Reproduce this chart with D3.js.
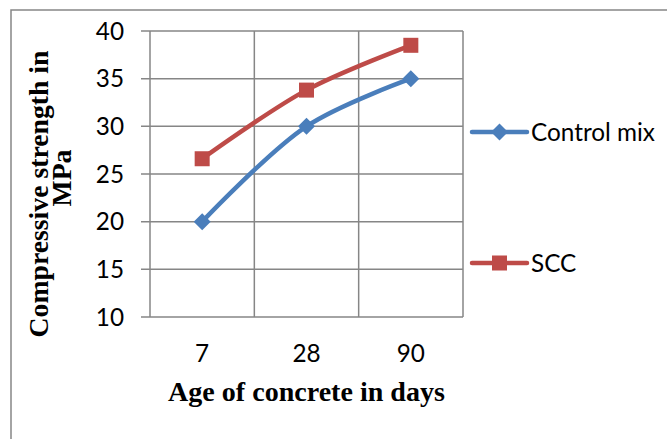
<!DOCTYPE html>
<html><head><meta charset="utf-8">
<script src="https://cdn.jsdelivr.net/npm/d3@7"></script>
<style>body{margin:0;background:#fff}svg{display:block}</style>
</head><body>
<svg id="c" width="667" height="439"></svg>
<script>
const categories = ["7", "28", "90"];
const controlMix = [20, 30, 35];
const scc = [26.6, 33.8, 38.5];
const yTicks = [10, 15, 20, 25, 30, 35, 40];
const seriesNames = ["Control mix", "SCC"];
const xTitle = "Age of concrete in days";
const yTitleLines = ["Compressive strength in", "MPa"];

const svg = d3.select("#c");
const grid = "#868686";
const blue = "#4A7EBB", red = "#BE4B48";
const tickFont = "Lato, 'Open Sans', sans-serif";
const titleFont = "'Liberation Serif', 'Times New Roman', serif";

// outer chart border
svg.append("rect").attr("x", 11).attr("y", 10).attr("width", 720).attr("height", 500)
  .attr("fill", "#fff").attr("stroke", grid).attr("stroke-width", 1.5);

const L = 150, R = 463, T = 31, B = 317;
const x = d3.scaleBand().domain(categories).range([L, R]).paddingInner(0).paddingOuter(0);
const y = d3.scaleLinear().domain([10, 40]).range([B, T]);
const cx = d => x(d) + x.bandwidth() / 2;

// horizontal grid + y ticks
svg.append("g").selectAll("line").data(yTicks).join("line")
  .attr("x1", 141).attr("x2", R).attr("y1", d => y(d)).attr("y2", d => y(d))
  .attr("stroke", grid).attr("stroke-width", 1.5);
// vertical grid at band boundaries
const vb = categories.map(c => x(c)).concat([x(categories[categories.length - 1]) + x.bandwidth()]);
svg.append("g").selectAll("line").data(vb).join("line")
  .attr("x1", d => d).attr("x2", d => d).attr("y1", T).attr("y2", B)
  .attr("stroke", grid).attr("stroke-width", 1.5);

// legend font size fit
const probe = svg.append("text").attr("font-family", tickFont).attr("font-size", 20).text(seriesNames[0]);
const fsTick = 20 * 124 / probe.node().getComputedTextLength();
probe.remove();

// y tick labels
svg.append("g").selectAll("text").data(yTicks).join("text")
  .attr("x", 124).attr("y", d => y(d)).attr("dy", "0.35em").attr("text-anchor", "end")
  .attr("font-family", tickFont).attr("font-size", fsTick).attr("fill", "#000").text(d => d);
// x tick labels
svg.append("g").selectAll("text").data(categories).join("text")
  .attr("x", d => cx(d)).attr("y", 362).attr("text-anchor", "middle")
  .attr("font-family", tickFont).attr("font-size", fsTick).attr("fill", "#000").text(d => d);

// fit helper
function fit(sel, target) {
  const w = sel.node().getComputedTextLength();
  const fs = +sel.attr("font-size");
  sel.attr("font-size", fs * target / w);
  return fs * target / w;
}
// x title
const xt = svg.append("text").attr("x", (L + R) / 2 + 0).attr("y", 401).attr("text-anchor", "middle")
  .attr("font-family", titleFont).attr("font-weight", "bold").attr("font-size", 22).text(xTitle);
fit(xt, 277);
// y title
const yt1 = svg.append("text").attr("transform", "translate(48,194) rotate(-90)").attr("text-anchor", "middle")
  .attr("font-family", titleFont).attr("font-weight", "bold").attr("font-size", 20).text(yTitleLines[0]);
const fsY = fit(yt1, 287);
svg.append("text").attr("transform", "translate(71,178) rotate(-90)").attr("text-anchor", "middle")
  .attr("font-family", titleFont).attr("font-weight", "bold").attr("font-size", fsY).text(yTitleLines[1]);

// lines
const line = d3.line().x(d => cx(d[0])).y(d => y(d[1])).curve(d3.curveCatmullRom.alpha(0.5));
const s1 = categories.map((c, i) => [c, controlMix[i]]);
const s2 = categories.map((c, i) => [c, scc[i]]);
svg.append("path").attr("d", line(s2)).attr("fill", "none").attr("stroke", red).attr("stroke-width", 4.5).attr("stroke-linejoin", "round");
svg.append("path").attr("d", line(s1)).attr("fill", "none").attr("stroke", blue).attr("stroke-width", 4.5).attr("stroke-linejoin", "round");

const diamond = (px, py, r) => `M${px},${py - r}L${px + r},${py}L${px},${py + r}L${px - r},${py}Z`;
svg.append("g").selectAll("rect").data(s2).join("rect")
  .attr("x", d => cx(d[0]) - 7.5).attr("y", d => y(d[1]) - 7.5).attr("width", 15).attr("height", 15).attr("fill", red);
svg.append("g").selectAll("path").data(s1).join("path")
  .attr("d", d => diamond(cx(d[0]), y(d[1]), 8.5)).attr("fill", blue);

// legend
const lg = [{name: seriesNames[0], color: blue, y: 132, m: "d"}, {name: seriesNames[1], color: red, y: 263, m: "s"}];
lg.forEach(e => {
  svg.append("line").attr("x1", 472).attr("x2", 527).attr("y1", e.y).attr("y2", e.y)
    .attr("stroke", e.color).attr("stroke-width", 4.5).attr("stroke-linecap", "round");
  if (e.m === "d") svg.append("path").attr("d", diamond(499.5, e.y, 8.5)).attr("fill", e.color);
  else svg.append("rect").attr("x", 492).attr("y", e.y - 7.5).attr("width", 15).attr("height", 15).attr("fill", e.color);
  svg.append("text").attr("x", 531).attr("y", e.y).attr("dy", "0.36em")
    .attr("font-family", tickFont).attr("font-size", fsTick).attr("fill", "#000").text(e.name);
});
</script>
</body></html>
